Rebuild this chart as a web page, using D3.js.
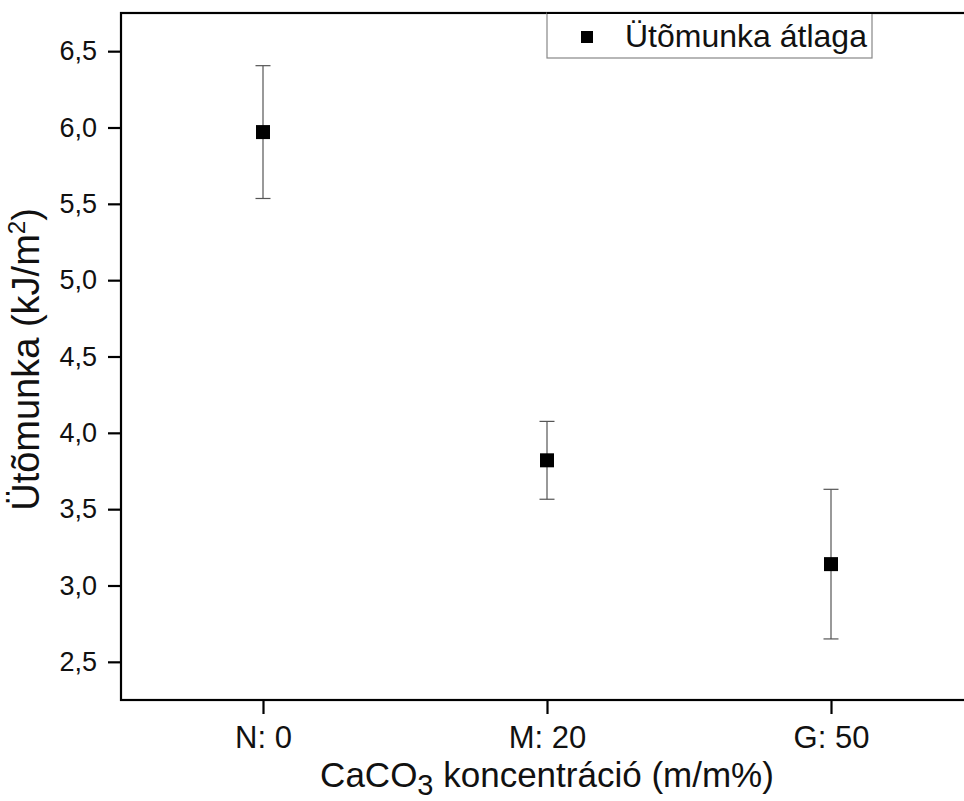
<!DOCTYPE html>
<html>
<head>
<meta charset="utf-8">
<title>Ütőmunka</title>
<style>
  body { margin: 0; background: #fff; }
  svg { display: block; font-family: Arial, "Liberation Sans", sans-serif; }
</style>
</head>
<body>
<div id="chart"></div>
<script src="https://d3js.org/d3.v7.min.js"></script>
<script>
// data
var categories = ["N: 0", "M: 20", "G: 50"];
var means = [5.97, 3.82, 3.14];
var errors = [0.435, 0.255, 0.49];
var yTicks = [2.5, 3.0, 3.5, 4.0, 4.5, 5.0, 5.5, 6.0, 6.5];
var legendLabel = "Ütõmunka átlaga";

var W = 964, H = 801;
var svg = d3.select("#chart").append("svg")
    .attr("width", W).attr("height", H);

var x = d3.scaleLinear().domain([-0.5, 2.5]).range([121, 973]);
var y = d3.scaleLinear().domain([2.25, 6.75]).range([700, 13]);

// frame
svg.append("rect")
    .attr("x", x(-0.5)).attr("y", y(6.75))
    .attr("width", x(2.5) - x(-0.5)).attr("height", y(2.25) - y(6.75))
    .attr("fill", "none").attr("stroke", "#000").attr("stroke-width", 2.2);

// y axis
var yAxis = svg.append("g")
    .attr("transform", "translate(" + x(-0.5) + ",0)")
    .call(d3.axisLeft(y).tickValues(yTicks).tickSize(13).tickPadding(11)
        .tickFormat(function(d) { return d3.format(".1f")(d).replace(".", ","); }));
yAxis.select(".domain").remove();
yAxis.selectAll(".tick line").attr("stroke-width", 2.2);
yAxis.selectAll(".tick text").attr("font-size", 27).attr("fill", "#111")
    .attr("font-family", "Arial, 'Liberation Sans', sans-serif");

// x axis
var xAxis = svg.append("g")
    .attr("transform", "translate(0," + y(2.25) + ")")
    .call(d3.axisBottom(x).tickValues(d3.range(categories.length)).tickSize(14).tickPadding(12)
        .tickFormat(function(i) { return categories[i]; }));
xAxis.select(".domain").remove();
xAxis.selectAll(".tick line").attr("stroke-width", 2.2);
xAxis.selectAll(".tick text").attr("font-size", 31).attr("fill", "#111")
    .attr("font-family", "Arial, 'Liberation Sans', sans-serif");

// axis titles
var xt = svg.append("text")
    .attr("x", x(1)).attr("y", 787)
    .attr("text-anchor", "middle").attr("font-size", 35).attr("fill", "#111");
xt.append("tspan").text("CaCO");
xt.append("tspan").attr("dy", 8).attr("font-size", 29).text("3");
xt.append("tspan").attr("dy", -8).text(" koncentráció (m/m%)");

var yt = svg.append("text")
    .attr("transform", "translate(39," + ((y(2.25) + y(6.75)) / 2 + 3) + ") rotate(-90)")
    .attr("text-anchor", "middle").attr("font-size", 38).attr("fill", "#111");
yt.append("tspan").text("Ütõmunka (kJ/m");
yt.append("tspan").attr("dy", -14).attr("font-size", 24).text("2");
yt.append("tspan").attr("dy", 14).text(")");

// error bars
var pts = categories.map(function(c, i) { return {i: i, m: means[i], e: errors[i]}; });
var eb = svg.append("g").attr("stroke", "#555").attr("stroke-width", 1.2);
eb.selectAll(".v").data(pts).join("line")
    .attr("x1", function(d) { return x(d.i); }).attr("x2", function(d) { return x(d.i); })
    .attr("y1", function(d) { return y(d.m + d.e); }).attr("y2", function(d) { return y(d.m - d.e); });
eb.selectAll(".t").data(pts).join("line")
    .attr("x1", function(d) { return x(d.i) - 7.5; }).attr("x2", function(d) { return x(d.i) + 7.5; })
    .attr("y1", function(d) { return y(d.m + d.e); }).attr("y2", function(d) { return y(d.m + d.e); });
eb.selectAll(".b").data(pts).join("line")
    .attr("x1", function(d) { return x(d.i) - 7.5; }).attr("x2", function(d) { return x(d.i) + 7.5; })
    .attr("y1", function(d) { return y(d.m - d.e); }).attr("y2", function(d) { return y(d.m - d.e); });

// markers
svg.append("g").selectAll("rect").data(pts).join("rect")
    .attr("x", function(d) { return x(d.i) - 7; })
    .attr("y", function(d) { return y(d.m) - 7; })
    .attr("width", 14).attr("height", 14)
    .attr("fill", "#000");

// legend
var lg = svg.append("g");
lg.append("rect").attr("x", 547).attr("y", 13).attr("width", 325).attr("height", 45)
    .attr("fill", "#fff").attr("stroke", "#888").attr("stroke-width", 1.2);
svg.append("line").attr("x1", 547).attr("x2", 964).attr("y1", 13).attr("y2", 13)
    .attr("stroke", "#000").attr("stroke-width", 2.2);
lg.append("rect").attr("x", 581).attr("y", 31).attr("width", 12).attr("height", 12).attr("fill", "#000");
lg.append("text").attr("x", 625).attr("y", 47).attr("font-size", 32).attr("fill", "#111")
    .text(legendLabel);
</script>
</body>
</html>
